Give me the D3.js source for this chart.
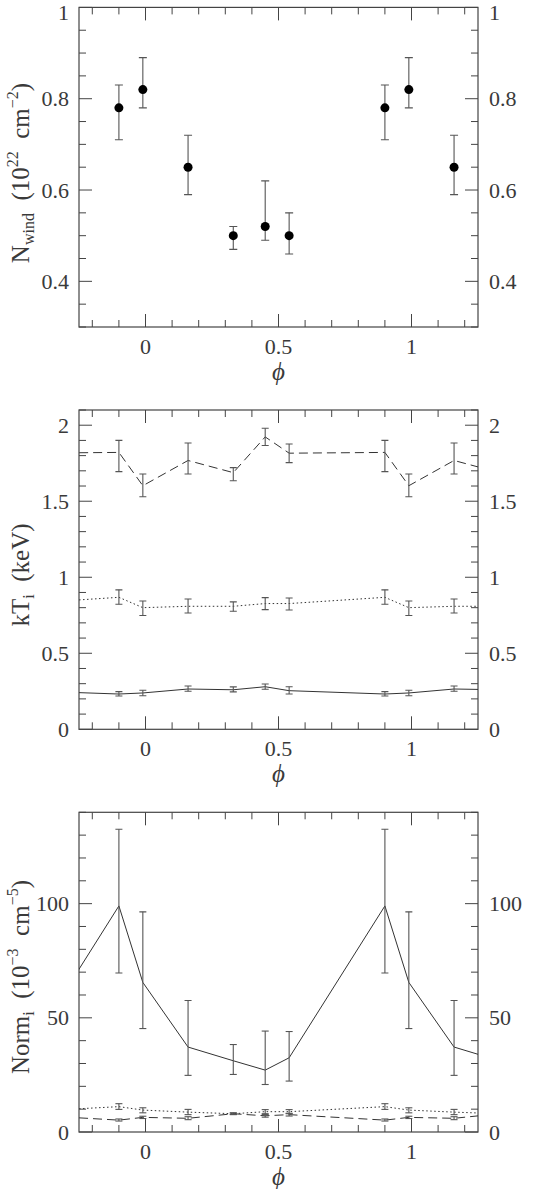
<!DOCTYPE html>
<html><head><meta charset="utf-8">
<script src="https://cdn.jsdelivr.net/npm/d3@7"></script>
<style>
html,body{margin:0;padding:0;background:#fff;}
svg{display:block;}
</style></head>
<body>
<svg id="chart" width="548" height="1189"></svg>
<script>
// ---- Data (orbital phase; points outside [-0.25,1.25] are clipped like the original) ----
const phases = [-0.46, -0.10, -0.01, 0.16, 0.33, 0.45, 0.54, 0.90, 0.99, 1.16, 1.33];

const nwind   = [0.50, 0.78, 0.82, 0.65, 0.50, 0.52, 0.50, 0.78, 0.82, 0.65, 0.50];
const nwindLo = [0.46, 0.71, 0.78, 0.59, 0.47, 0.49, 0.46, 0.71, 0.78, 0.59, 0.47];
const nwindHi = [0.55, 0.83, 0.89, 0.72, 0.52, 0.62, 0.55, 0.83, 0.89, 0.72, 0.52];

const kt1   = [0.254, 0.232, 0.239, 0.265, 0.260, 0.280, 0.254, 0.232, 0.239, 0.265, 0.260];
const kt1Lo = [0.232, 0.219, 0.221, 0.250, 0.246, 0.263, 0.232, 0.219, 0.221, 0.250, 0.246];
const kt1Hi = [0.280, 0.248, 0.257, 0.285, 0.279, 0.298, 0.280, 0.248, 0.257, 0.285, 0.279];

const kt2   = [0.827, 0.868, 0.800, 0.809, 0.809, 0.827, 0.827, 0.868, 0.800, 0.809, 0.809];
const kt2Lo = [0.785, 0.822, 0.748, 0.765, 0.776, 0.787, 0.785, 0.822, 0.748, 0.765, 0.776];
const kt2Hi = [0.864, 0.917, 0.844, 0.857, 0.838, 0.866, 0.864, 0.917, 0.844, 0.857, 0.838];

const kt3   = [1.816, 1.821, 1.602, 1.768, 1.688, 1.923, 1.816, 1.821, 1.602, 1.768, 1.688];
const kt3Lo = [1.754, 1.695, 1.529, 1.679, 1.635, 1.867, 1.754, 1.695, 1.529, 1.679, 1.635];
const kt3Hi = [1.876, 1.900, 1.679, 1.883, 1.721, 1.980, 1.876, 1.900, 1.679, 1.883, 1.721];

const norm1   = [32.5, 99.0, 65.5, 37.2, 31.2, 27.1, 32.5, 99.0, 65.5, 37.2, 31.2];
const norm1Lo = [22.3, 69.6, 45.3, 24.8, 25.2, 20.8, 22.3, 69.6, 45.3, 24.8, 25.2];
const norm1Hi = [44.0, 132.6, 96.4, 57.6, 38.3, 44.2, 44.0, 132.6, 96.4, 57.6, 38.3];

const norm2   = [8.9, 11.1, 9.6, 8.7, 8.0, 8.9, 8.9, 11.1, 9.6, 8.7, 8.0];
const norm2Lo = [8.0, 9.9, 8.4, 7.6, 7.6, 8.0, 8.0, 9.9, 8.4, 7.6, 7.6];
const norm2Hi = [9.8, 12.4, 10.6, 9.9, 8.4, 9.8, 9.8, 12.4, 10.6, 9.9, 8.4];

const norm3   = [7.6, 5.2, 6.4, 6.0, 8.0, 7.1, 7.6, 5.2, 6.4, 6.0, 8.0];
const norm3Lo = [7.0, 4.8, 5.9, 5.4, 7.7, 6.5, 7.0, 4.8, 5.9, 5.4, 7.7];
const norm3Hi = [8.2, 5.7, 6.9, 6.7, 8.3, 7.7, 8.2, 5.7, 6.9, 6.7, 8.3];

const xDomain = [-0.25, 1.25];
const xMajor = [0, 0.5, 1];
const xMajorLabels = ["0", "0.5", "1"];
const xMinorStep = 0.1;

const yTicks1 = [0.4, 0.6, 0.8, 1.0];
const yTickLabels1 = ["0.4", "0.6", "0.8", "1"];
const yTicks2 = [0, 0.5, 1, 1.5, 2];
const yTickLabels2 = ["0", "0.5", "1", "1.5", "2"];
const yTicks3 = [0, 50, 100];
const yTickLabels3 = ["0", "50", "100"];

// ---- Drawing ----
const FONT = "'Liberation Serif', 'Times New Roman', 'DejaVu Serif', serif";
const svg = d3.select("#chart").attr("font-family", FONT);
const L = 79, R = 478;
const AX = "#444";
const TXT = "#3a3a3a";
const FS = 22;
const LFS = 25;

function panel(cfg) {
  const x = d3.scaleLinear().domain(xDomain).range([L, R]);
  const y = d3.scaleLinear().domain(cfg.yDomain).range([cfg.bottom, cfg.top]);
  const g = svg.append("g");
  const clipId = "clip" + cfg.id;
  svg.append("clipPath").attr("id", clipId).append("rect")
    .attr("x", L).attr("y", cfg.top).attr("width", R - L).attr("height", cfg.bottom - cfg.top);

  const xMinor = d3.range(-0.2, 1.2001, xMinorStep).map(v => +v.toFixed(2));
  const isMajX = v => xMajor.some(m => Math.abs(m - v) < 1e-6);
  xMinor.forEach(v => {
    const len = isMajX(v) ? 13 : 7;
    g.append("line").attr("x1", x(v)).attr("x2", x(v)).attr("y1", cfg.bottom).attr("y2", cfg.bottom - len).attr("stroke", AX);
    g.append("line").attr("x1", x(v)).attr("x2", x(v)).attr("y1", cfg.top).attr("y2", cfg.top + len).attr("stroke", AX);
  });
  const yMinor = d3.range(cfg.yDomain[0], cfg.yDomain[1] + 1e-9, cfg.yMinor).map(v => +v.toFixed(4));
  const isMajY = v => cfg.yTicks.some(m => Math.abs(m - v) < 1e-6);
  yMinor.forEach(v => {
    const len = isMajY(v) ? 13 : 7;
    g.append("line").attr("y1", y(v)).attr("y2", y(v)).attr("x1", L).attr("x2", L + len).attr("stroke", AX);
    g.append("line").attr("y1", y(v)).attr("y2", y(v)).attr("x1", R).attr("x2", R - len).attr("stroke", AX);
  });
  g.append("rect").attr("x", L).attr("y", cfg.top).attr("width", R - L).attr("height", cfg.bottom - cfg.top)
    .attr("fill", "none").attr("stroke", AX).attr("stroke-width", 1.2);

  xMajor.forEach((v, i) => {
    g.append("text").attr("x", x(v)).attr("y", cfg.bottom + 27).attr("text-anchor", "middle")
      .attr("font-size", FS).attr("fill", TXT).text(xMajorLabels[i]);
  });
  cfg.yTicks.forEach((v, i) => {
    const by = Math.max(y(v) + 7.5, 19.5);
    g.append("text").attr("x", 69).attr("y", by).attr("text-anchor", "end")
      .attr("font-size", FS).attr("fill", TXT).text(cfg.yLabels[i]);
    g.append("text").attr("x", 489).attr("y", by).attr("text-anchor", "start")
      .attr("font-size", FS).attr("fill", TXT).text(cfg.yLabels[i]);
  });
  g.append("text").attr("x", x(0.5)).attr("y", cfg.bottom + 53).attr("text-anchor", "middle")
    .attr("font-size", 25).attr("font-style", "italic").attr("fill", TXT).text("\u03D5");
  const yl = g.append("text").attr("transform", `translate(29,${cfg.labelY}) rotate(-90)`)
    .attr("text-anchor", "middle").attr("font-size", LFS).attr("fill", TXT);
  cfg.label(yl);

  const pg = g.append("g").attr("clip-path", `url(#${clipId})`);
  cfg.series.forEach(s => {
    const pts = phases.map((p, i) => ({p, v: s.v[i], lo: s.lo[i], hi: s.hi[i]}));
    if (s.line) {
      pg.append("path").datum(pts)
        .attr("d", d3.line().x(d => x(d.p)).y(d => y(d.v)))
        .attr("fill", "none").attr("stroke", "#333").attr("stroke-width", 1)
        .attr("stroke-dasharray", s.dash || null);
    }
    const cw = s.cap;
    pts.forEach(d => {
      pg.append("line").attr("x1", x(d.p)).attr("x2", x(d.p)).attr("y1", y(d.lo)).attr("y2", y(d.hi))
        .attr("stroke", "#555").attr("stroke-width", 1.1);
      [d.lo, d.hi].forEach(e => pg.append("line").attr("x1", x(d.p) - cw).attr("x2", x(d.p) + cw)
        .attr("y1", y(e)).attr("y2", y(e)).attr("stroke", "#555").attr("stroke-width", 1.1));
      if (s.dot) pg.append("circle").attr("cx", x(d.p)).attr("cy", y(d.v)).attr("r", 4.5).attr("fill", "#000");
    });
  });
}

function sub(t, s, shift) {
  t.append("tspan").attr("baseline-shift", shift).attr("font-size", 16).text(s);
}
function sp(t) { t.append("tspan").text("\u00A0\u00A0"); }

panel({
  id: 1, top: 7.4, bottom: 327, yDomain: [0.3, 1.0], yMinor: 0.05,
  yTicks: yTicks1, yLabels: yTickLabels1, labelY: 173,
  label: t => {
    t.append("tspan").text("N");
    sub(t, "wind", "-5");
    sp(t);
    t.append("tspan").text("(10");
    sub(t, "22", "11");
    sp(t);
    t.append("tspan").text("cm");
    sub(t, "\u22122", "11");
    t.append("tspan").text(")");
  },
  series: [{v: nwind, lo: nwindLo, hi: nwindHi, dot: true, line: false, cap: 4}]
});

panel({
  id: 2, top: 410, bottom: 729.3, yDomain: [0, 2.1], yMinor: 0.1,
  yTicks: yTicks2, yLabels: yTickLabels2, labelY: 575,
  label: t => {
    t.append("tspan").text("kT");
    sub(t, "i", "-5");
    sp(t);
    t.append("tspan").text("(keV)");
  },
  series: [
    {v: kt1, lo: kt1Lo, hi: kt1Hi, line: true, cap: 3.5},
    {v: kt2, lo: kt2Lo, hi: kt2Hi, line: true, dash: "1.5,2.5", cap: 3.5},
    {v: kt3, lo: kt3Lo, hi: kt3Hi, line: true, dash: "9,5", cap: 3.5}
  ]
});

panel({
  id: 3, top: 812.3, bottom: 1132, yDomain: [0, 140], yMinor: 10,
  yTicks: yTicks3, yLabels: yTickLabels3, labelY: 977,
  label: t => {
    t.append("tspan").text("Norm");
    sub(t, "i", "-5");
    sp(t);
    t.append("tspan").text("(10");
    sub(t, "\u22123", "11");
    sp(t);
    t.append("tspan").text("cm");
    sub(t, "\u22125", "11");
    t.append("tspan").text(")");
  },
  series: [
    {v: norm1, lo: norm1Lo, hi: norm1Hi, line: true, cap: 3.5},
    {v: norm2, lo: norm2Lo, hi: norm2Hi, line: true, dash: "1.5,2.5", cap: 3.5},
    {v: norm3, lo: norm3Lo, hi: norm3Hi, line: true, dash: "9,5", cap: 3.5}
  ]
});
</script>
</body></html>
